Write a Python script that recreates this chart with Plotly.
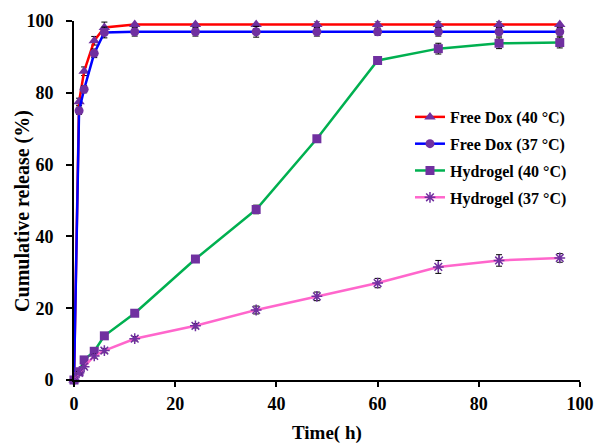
import plotly.graph_objects as go

time_h = [0, 1, 2, 4, 6, 12, 24, 36, 48, 60, 72, 84, 96]

free_dox_40 = [0, 77.5, 86, 94.5, 98.2, 99, 99, 99, 99, 99, 99, 99, 99]
free_dox_40_err = [0, 1, 1.2, 1.2, 1.5, 1.8, 1.2, 1.2, 1, 1, 1, 1, 1.2]
free_dox_37 = [0, 75, 81, 91, 96.8, 97, 97, 97, 97, 97, 97, 97, 97]
free_dox_37_err = [0, 1, 1, 1.2, 1.5, 1.2, 1.2, 1.5, 1.2, 1, 1.2, 1.2, 1.2]
hydrogel_40 = [0, 2.3, 5.6, 8, 12.3, 18.6, 33.7, 47.5, 67.2, 89, 92.3, 93.8, 94]
hydrogel_40_err = [0, 0.5, 0.5, 0.5, 0.5, 0.6, 0.6, 1.2, 0.8, 0.6, 1.5, 1.5, 1.5]
hydrogel_37 = [0, 2.0, 3.7, 6.7, 8.2, 11.5, 15.1, 19.5, 23.3, 27, 31.5, 33.3, 34]
hydrogel_37_err = [0, 0.4, 0.5, 0.6, 0.6, 0.6, 0.6, 1.1, 1.2, 1.3, 1.8, 1.6, 1.2]

names = ["Free Dox (40 °C)", "Free Dox (37 °C)", "Hydrogel (40 °C)", "Hydrogel (37 °C)"]
series = [free_dox_40, free_dox_37, hydrogel_40, hydrogel_37]
errors = [free_dox_40_err, free_dox_37_err, hydrogel_40_err, hydrogel_37_err]
line_colors = ["#FF0000", "#0000FF", "#00B050", "#FF66CC"]
symbols = ["triangle-up", "circle", "square", "asterisk-open"]
sizes = [10, 9, 9, 9]

x_title = "Time( h)"
y_title = "Cumulative release (%)"

MARK = "#7030A0"
FONT = "Liberation Serif"

fig = go.Figure()
for i in range(4):
    marker = dict(symbol=symbols[i], size=sizes[i], color=MARK)
    if symbols[i].endswith("open"):
        marker["line"] = dict(color=MARK, width=1.5)
    fig.add_trace(go.Scatter(
        x=time_h, y=series[i], name=names[i], mode="lines+markers",
        line=dict(color=line_colors[i], width=2.5),
        marker=marker,
        error_y=dict(type="data", array=errors[i], visible=True,
                     color="black", thickness=1, width=3),
        cliponaxis=False,
        legendgroup=str(i),
    ))

fig.update_layout(
    width=595, height=444,
    margin=dict(l=74, r=15, t=21, b=64),
    paper_bgcolor="white", plot_bgcolor="white",
    font=dict(family=FONT, color="black"),
    showlegend=True,
    legend=dict(x=0.664, y=0.78, xanchor="left", yanchor="top",
                font=dict(family=FONT, size=16, color="black", weight="bold"),
                bgcolor="rgba(0,0,0,0)", traceorder="grouped", tracegroupgap=3),
    annotations=[
        dict(text=x_title, xref="paper", yref="paper", x=0.5, y=-0.147,
             xanchor="center", yanchor="middle", showarrow=False,
             font=dict(family=FONT, size=19, color="black", weight="bold")),
        dict(text=y_title, xref="paper", yref="paper", x=-0.1008, y=0.471,
             xanchor="center", yanchor="middle", showarrow=False, textangle=-90,
             font=dict(family=FONT, size=20, color="black", weight="bold")),
    ],
)
fig.update_xaxes(
    range=[0, 100], tickvals=[0, 20, 40, 60, 80, 100],
    showline=True, linecolor="black", linewidth=2,
    ticks="outside", ticklen=5, tickwidth=1.5, tickcolor="black",
    ticklabelstandoff=1, automargin=False,
    showgrid=False, zeroline=False,
    tickfont=dict(family=FONT, size=18, color="black", weight="bold"),
)
fig.update_yaxes(
    range=[0, 100], tickvals=[0, 20, 40, 60, 80, 100],
    showline=True, linecolor="black", linewidth=2,
    ticks="outside", ticklen=6, tickwidth=1.5, tickcolor="black",
    ticklabelstandoff=9, automargin=False,
    showgrid=False, zeroline=False,
    tickfont=dict(family=FONT, size=18, color="black", weight="bold"),
)
fig.write_html("out.html")
